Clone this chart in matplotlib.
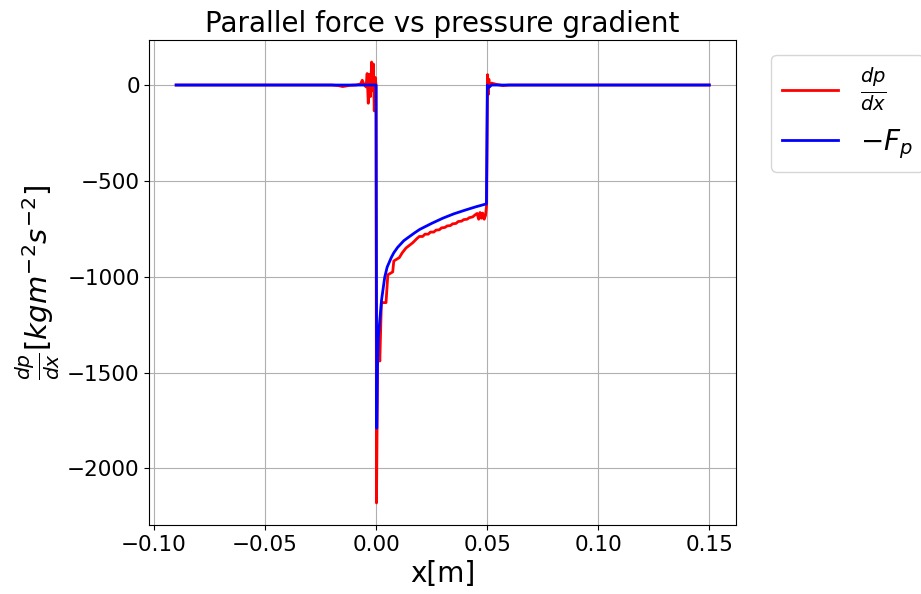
import matplotlib
matplotlib.use("Agg")
from matplotlib import pyplot as plt
import numpy as np

# pressure gradient dp/dx
x_dpdx = [-0.09, -0.05, -0.02, -0.017, -0.015, -0.012, -0.009, -0.007, -0.0062, -0.0055,
          -0.0045, -0.004, -0.0035, -0.003, -0.0025, -0.002, -0.0016, -0.0012, -0.0008,
          -0.0004, 0.0, 0.0002, 0.0008, 0.0017, 0.0024, 0.0045, 0.0053, 0.0075, 0.0080,
          0.0105, 0.0118, 0.0135, 0.0165, 0.0185, 0.0195, 0.021, 0.022, 0.0235, 0.0245,
          0.026, 0.027, 0.0285, 0.0295, 0.031, 0.032, 0.0335, 0.0345, 0.036, 0.037,
          0.0385, 0.0395, 0.041, 0.042, 0.0435, 0.0445, 0.0455, 0.0462, 0.0468, 0.0475,
          0.048, 0.0487, 0.0493, 0.0498, 0.0502, 0.0505, 0.0508, 0.051, 0.052, 0.054,
          0.057, 0.06, 0.1, 0.15]
dpdx = [0, 0, 0, -3, -8, -2, 0, 5, 25, 5,
        -10, 60, -95, 55, -60, 120, -30, 110, -135,
        40, 0, -2180, -1300, -1440, -1135, -1135, -990, -975, -918,
        -900, -875, -850, -823, -800, -790, -790, -778, -778, -767,
        -767, -757, -755, -745, -743, -735, -733, -724, -722, -712,
        -710, -702, -700, -692, -688, -678, -670, -700, -665, -695,
        -668, -700, -680, -625, 54, -50, 30, -10, 10, 4,
        -3, 0, 0, 0]

# parallel force -F_p
x_fp = [-0.09, -0.05, 0.0, 0.0003, 0.0006, 0.001, 0.0017, 0.0025, 0.0039, 0.005,
        0.0069, 0.008, 0.0097, 0.0125, 0.0145, 0.0175, 0.0197, 0.025, 0.03, 0.035, 0.04,
        0.045, 0.0497, 0.0501, 0.0505, 0.052, 0.1, 0.15]
fp = [0, 0, 0, -1790, -1480, -1320, -1226, -1120, -1003, -950,
      -899, -875, -847, -812, -795, -770, -753, -722, -695, -672, -653,
      -635, -620, 0, -15, 0, 0, 0]

fig = plt.figure(figsize=(9.21, 5.94), dpi=100)
ax = fig.add_axes([0.1623, 0.1162, 0.6367, 0.8165])

ax.plot(x_dpdx, dpdx, color="red", linewidth=2, label=r"$\frac{dp}{dx}$")
ax.plot(x_fp, fp, color="blue", linewidth=2, label=r"$-F_p$")

ax.set_title("Parallel force vs pressure gradient", fontsize=20)
ax.set_xlabel("x[m]", fontsize=20)
ax.set_ylabel(r"$\frac{dp}{dx}[kgm^{-2}s^{-2}]$", fontsize=21)
ax.tick_params(labelsize=15.5)
ax.set_xticks([-0.10, -0.05, 0.0, 0.05, 0.10, 0.15])
ax.set_yticks([0, -500, -1000, -1500, -2000])
ax.grid(True)

ax.legend(loc="upper left", bbox_to_anchor=(1.06, 0.97), borderaxespad=0, fontsize=20)

fig.savefig("out.png", dpi=100)
